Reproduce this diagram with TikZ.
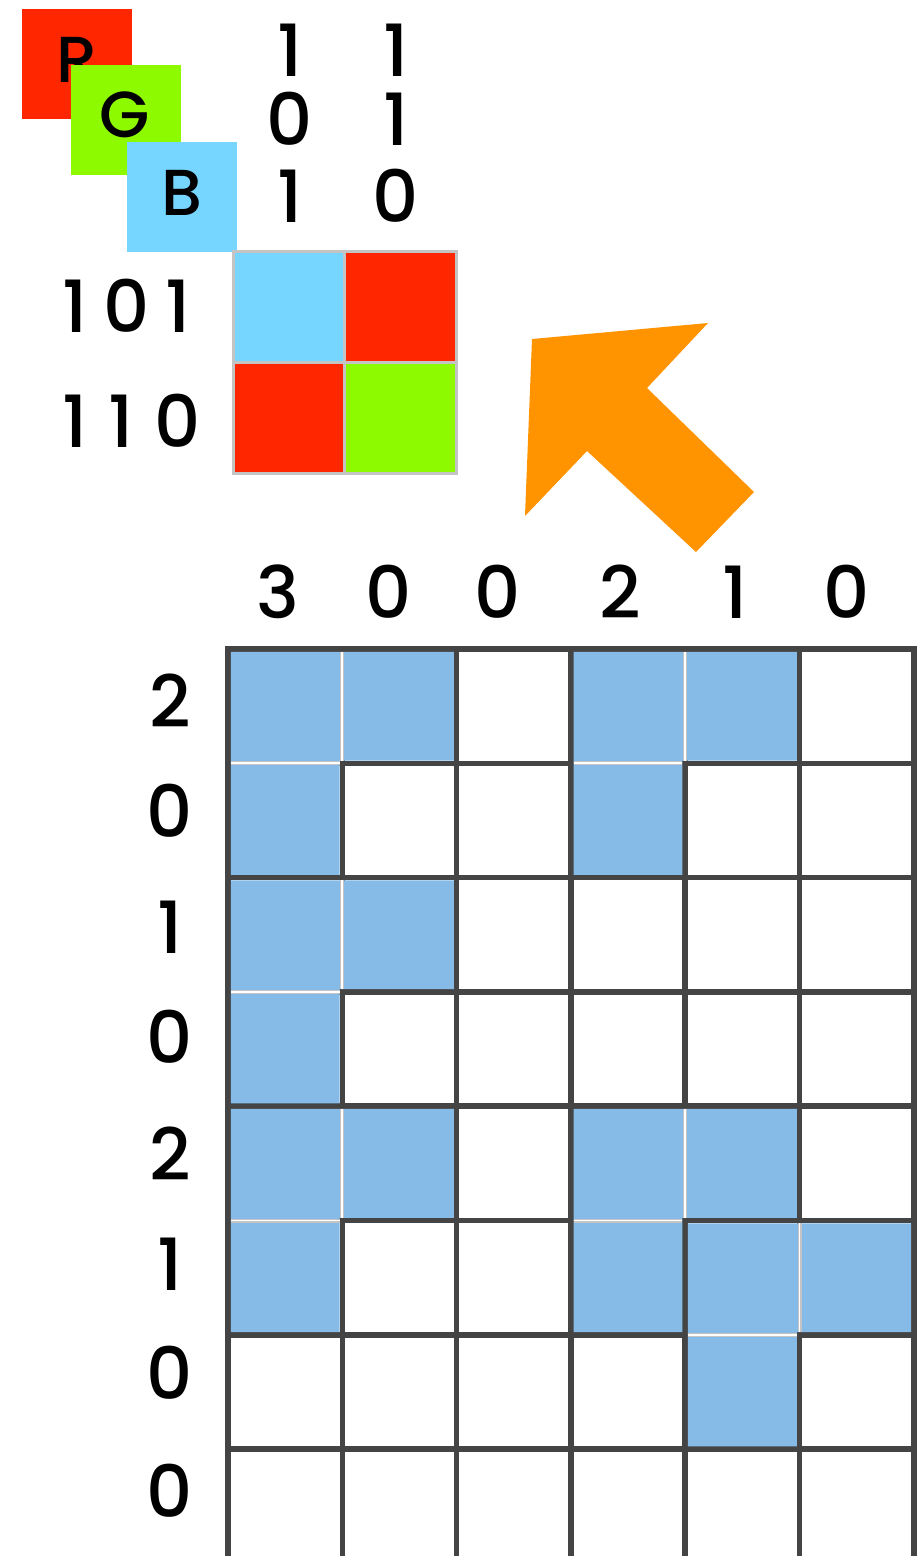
\documentclass[tikz,border=0pt]{standalone}
\usepackage{fontspec}
\setmainfont{Poppins Medium}
\definecolor{rred}{HTML}{FF2600}
\definecolor{ggreen}{HTML}{8EFA00}
\definecolor{bblue}{HTML}{76D6FF}
\definecolor{aorange}{HTML}{FF9300}
\definecolor{cellblue}{RGB}{134,187,232}
\definecolor{gridgray}{HTML}{444444}
\definecolor{framegray}{HTML}{C4C4C4}
\definecolor{seamgray}{HTML}{C4C4C4}
\begin{document}
\begin{tikzpicture}[x=1pt,y=-1pt,
  lbl/.style={inner sep=0pt, anchor=base, font=\fontsize{72}{86}\selectfont},
  chan/.style={inner sep=0pt, anchor=base, font=\fontsize{65}{78}\selectfont},
  chanbox/.style={draw=none, inner sep=0pt, minimum size=110pt, anchor=north west},
  gridline/.style={draw=gridgray, line width=5.5pt},
  seam/.style={draw=seamgray, line width=4pt},
  seamcore/.style={draw=white, line width=1.8pt}]
\useasboundingbox (0,0) rectangle (922,1556);
% channel boxes
\node[chanbox, fill=rred] (rbox) at (22,9) {};
\node[chan] (rlab) at (77,82) {R};
\node[chanbox, fill=ggreen] (gbox) at (71,65) {};
\node[chan] (glab) at (125,137) {G};
\node[chanbox, fill=bblue] (bbox) at (127,142) {};
\node[chan] (blab) at (182,215) {B};
% top numbers
\node[lbl] (t11) at (290,76) {1};
\node[lbl] (t12) at (396,76) {1};
\node[lbl] (t21) at (290,145) {0};
\node[lbl] (t22) at (396,145) {1};
\node[lbl] (t31) at (290,222) {1};
\node[lbl] (t32) at (396,222) {0};
% row codes
\node[lbl, anchor=base west] (r101) at (62,332) {\spaceskip=16pt\relax 1 0 1};
\node[lbl, anchor=base west] (r110) at (62,447) {\spaceskip=21pt\relax 1 1 0};
% small matrix
\fill[bblue] (233,251) rectangle (344,362);
\fill[rred] (344,251) rectangle (456,362);
\fill[rred] (233,362) rectangle (344,473);
\fill[ggreen] (344,362) rectangle (456,473);
\draw[framegray, line width=3pt] (233,251) rectangle (456,473);
\draw[framegray, line width=3pt] (344,251) -- (344,473);
\draw[framegray, line width=3pt] (233,362) -- (456,362);
% orange arrow
\fill[aorange] (532,339) -- (708,323) -- (647,388) -- (754,492) -- (696,552) -- (587,451) -- (525,516) -- cycle;
% column labels
\foreach \x/\t [count=\k from 0] in {278/3,389/0,498/0,620/2,735/1,847/0}
  \node[lbl] (cl\k) at (\x,618) {\t};
% row labels
\foreach \y/\t [count=\k from 0] in {727/2,837/0,953/1,1063/0,1180/2,1290/1,1399/0,1517/0}
  \node[lbl] (rl\k) at (170,\y) {\t};
% main grid
\def\gs{114.3}
\def\gd{2.75}
\foreach \i in {0,...,6}
  \draw[gridline] ({228+\gs*\i},646.25) -- ({228+\gs*\i},1560);
\foreach \j in {0,...,7}
  \draw[gridline, line cap=rect] (228,{649+\gs*\j}) -- ({228+\gs*6},{649+\gs*\j});
% blue groups
\foreach \c/\r in {0/0,3/0,0/2,0/4,3/4,4/5} {
  \fill[cellblue] ({228+\gs*\c+\gd},{649+\gs*\r+\gd})
    -- ({228+\gs*(\c+2)-\gd},{649+\gs*\r+\gd})
    -- ({228+\gs*(\c+2)-\gd},{649+\gs*(\r+1)-\gd})
    -- ({228+\gs*(\c+1)-\gd},{649+\gs*(\r+1)-\gd})
    -- ({228+\gs*(\c+1)-\gd},{649+\gs*(\r+2)-\gd})
    -- ({228+\gs*\c+\gd},{649+\gs*(\r+2)-\gd}) -- cycle;
  \draw[seam] ({228+\gs*(\c+1)},{649+\gs*\r+\gd}) -- ({228+\gs*(\c+1)},{649+\gs*(\r+1)-\gd});
  \draw[seam] ({228+\gs*\c+\gd},{649+\gs*(\r+1)}) -- ({228+\gs*(\c+1)-\gd},{649+\gs*(\r+1)});
  \draw[seamcore] ({228+\gs*(\c+1)},{649+\gs*\r+\gd}) -- ({228+\gs*(\c+1)},{649+\gs*(\r+1)-\gd});
  \draw[seamcore] ({228+\gs*\c+\gd},{649+\gs*(\r+1)}) -- ({228+\gs*(\c+1)-\gd},{649+\gs*(\r+1)});
}
\end{tikzpicture}
\end{document}
